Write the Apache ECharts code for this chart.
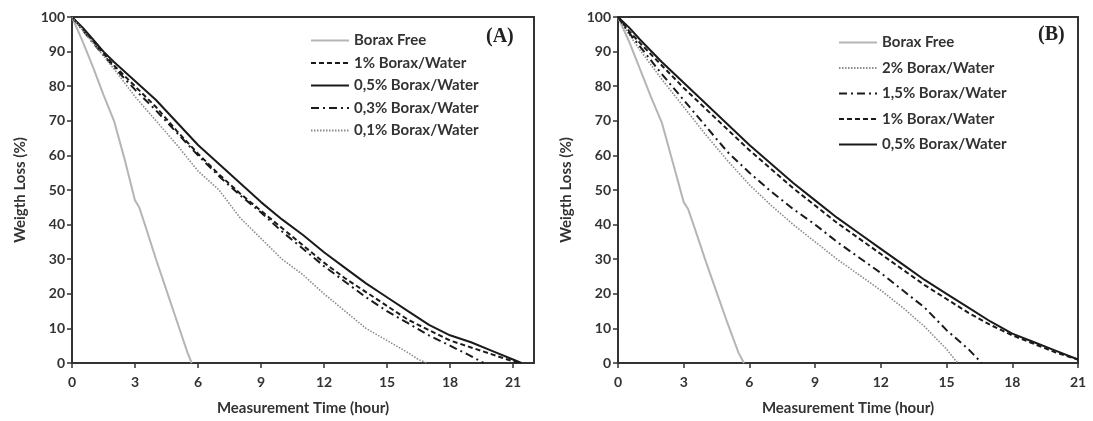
<!DOCTYPE html>
<html>
<head>
<meta charset="utf-8">
<script src="https://cdn.jsdelivr.net/npm/echarts@6/dist/echarts.min.js"></script>
<style>
html,body{margin:0;padding:0;background:#fff;}
#c{width:1093px;height:421px;}
</style>
</head>
<body>
<div id="c"></div>
<script>
// ---- Data (time in hours, weight loss in %) ----
// Panel A
const freeA = [[0,100],[0.5,93],[1,85.5],[1.5,77.5],[2,70],[2.5,59],[3,47],[3.2,45],[3.5,39.5],[4,30],[4.5,21],[5,12],[5.5,3],[5.7,0]];
const b1A = [[0,100],[0.5,96.5],[1,93],[2,86],[3,80],[4,74],[5,67],[6,60.5],[7,54.5],[8,49],[9,44],[10,39],[11,34],[12,29],[13,24.5],[14,20.5],[15,16.5],[16,12.5],[17,9.5],[18,6.5],[19,4.5],[20,2.5],[21,0.5],[21.2,0]];
const b05A = [[0,100],[0.5,97],[1,93.5],[1.5,90],[2,87],[3,81.5],[4,76],[5,69.5],[6,63],[7,57.5],[8,52],[9,46.5],[10,41.5],[11,37],[12,32],[13,27.5],[14,23],[15,19],[16,15],[17,11],[18,8],[19,6],[20,3.5],[21,1],[21.4,0]];
const b03A = [[0,100],[1,92.5],[2,85.5],[3,79],[4,73],[5,66.5],[6,60],[7,54],[8,48.5],[9,43.5],[10,38],[11,33],[12,28],[13,23.5],[14,19],[15,15],[16,11.5],[17,8],[18,5],[19,2],[19.6,0]];
const b01A = [[0,100],[1,92.5],[2,85],[3,77],[4,70],[5,63],[6,55.5],[7,50],[8,42],[9,36],[10,30],[11,25.5],[12,20],[13,15],[14,10],[15,6.5],[16,3],[16.5,1],[16.9,0]];

// Panel B
const freeB = [[0,100],[0.5,93],[1,85],[1.5,77],[2,69.5],[2.5,58],[3,46.5],[3.2,44.5],[3.5,39],[4,29.5],[4.5,20.5],[5,11.5],[5.5,3],[5.75,0]];
const b2B = [[0,100],[0.5,95],[1,90.5],[2,82],[3,74],[4,66],[5,58.5],[6,51.5],[7,45.5],[8,40],[9,35],[10,30],[11,25.5],[12,21],[13,16],[14,10.5],[15,4],[15.5,0]];
const b15B = [[0,100],[0.5,95.5],[1,91.5],[2,83.5],[3,76],[4,68.5],[5,61],[6,55],[7,49.5],[8,44.5],[9,40],[10,35],[11,30.5],[12,26],[13,21],[14,16],[15,9.5],[16,4],[16.6,0]];
const b1B = [[0,100],[0.5,96],[1,92.5],[2,86],[3,79.5],[4,73.5],[5,67.5],[6,61.5],[7,56],[8,50.5],[9,45.5],[10,40.5],[11,36],[12,31.5],[13,27],[14,22.5],[15,18.5],[16,14.5],[17,11],[18,8],[19,5.5],[20,3],[21,1]];
const b05B = [[0,100],[0.5,97],[1,93.5],[2,87],[3,81],[4,75],[5,69],[6,63],[7,57.5],[8,52],[9,47],[10,42],[11,37.5],[12,33],[13,28.5],[14,24],[15,20],[16,16],[17,12],[18,8.5],[19,6],[20,3.5],[21,1]];

const legendA = ['Borax Free', '1% Borax/Water', '0,5% Borax/Water', '0,3% Borax/Water', '0,1% Borax/Water'];
const legendB = ['Borax Free', '2% Borax/Water', '1,5% Borax/Water', '1% Borax/Water', '0,5% Borax/Water'];
const panelLabels = ['(A)', '(B)'];
const xTitle = 'Measurement Time (hour)';
const yTitle = 'Weigth Loss (%)';

// ---- Styles ----
const FONT = 'Lato, "Open Sans", sans-serif';
const styles = {
  free:  {color:'#b5b5b5', width:2, type:'solid'},
  solid: {color:'#1a1a1a', width:2, type:'solid'},
  dash:  {color:'#1a1a1a', width:2, type:[5,3]},
  dashdot: {color:'#1a1a1a', width:2, type:[8,4,2,4]},
  dot:   {color:'#8a8a8a', width:1.6, type:[1.5,1.5]}
};
function mk(name, data, st, idx){
  return {
    name: name, type:'line', data: data, xAxisIndex: idx, yAxisIndex: idx,
    symbol:'none', showSymbol:false, smooth:false, animation:false,
    lineStyle: {color: st.color, width: st.width, type: st.type},
    itemStyle: {color: st.color},
    emphasis: {disabled:true}
  };
}
function xAxis(idx, max){
  return {
    gridIndex: idx, type:'value', min:0, max:max, interval:3,
    name:xTitle, nameLocation:'middle', nameGap:38,
    nameTextStyle:{fontFamily:FONT, fontWeight:'bold', fontSize:15, color:'#333'},
    axisLine:{show:true, lineStyle:{color:'#333', width:2}},
    axisTick:{show:true, length:5, inside:false, lineStyle:{color:'#333', width:1.5}},
    axisLabel:{fontFamily:FONT, fontWeight:'bold', fontSize:14, color:'#333', margin:12, showMaxLabel: max === 21},
    splitLine:{show:false}
  };
}
function yAxis(idx){
  return {
    gridIndex: idx, type:'value', min:0, max:100, interval:10,
    name:yTitle, nameLocation:'middle', nameGap:44, nameRotate:90,
    nameTextStyle:{fontFamily:FONT, fontWeight:'bold', fontSize:15, color:'#333'},
    axisLine:{show:true, lineStyle:{color:'#333', width:2}},
    axisTick:{show:true, length:5, inside:false, lineStyle:{color:'#333', width:1.5}},
    axisLabel:{fontFamily:FONT, fontWeight:'bold', fontSize:14, color:'#333', margin:7},
    splitLine:{show:false}
  };
}
function legend(names, left, top, gap){
  return {
    data: names, orient:'vertical', left:left, top:top, itemWidth:38, itemHeight:14, itemGap:gap,
    selectedMode:false,
    itemStyle:{opacity:0, borderWidth:0},
    textStyle:{fontFamily:FONT, fontWeight:'bold', fontSize:15, color:'#333'}
  };
}

const chart = echarts.init(document.getElementById('c'), null, {renderer:'canvas'});
chart.setOption({
  animation:false,
  backgroundColor:'#fff',
  grid:[
    {left:72, top:17, width:462, height:347, show:true, borderColor:'#333', borderWidth:2, backgroundColor:'transparent'},
    {left:618, top:17, width:460, height:347, show:true, borderColor:'#333', borderWidth:2, backgroundColor:'transparent'}
  ],
  xAxis:[xAxis(0, 22), xAxis(1, 21)],
  yAxis:[yAxis(0), yAxis(1)],
  legend:[legend(legendA, 305, 28, 7.5), legend(legendB, 833, 30, 10.5)],
  graphic:[
    {type:'text', left:486, top:27, style:{text:panelLabels[0], font:'bold 20px "Liberation Serif", "DejaVu Serif", serif', fill:'#222'}},
    {type:'text', left:1038, top:25, style:{text:panelLabels[1], font:'bold 20px "Liberation Serif", "DejaVu Serif", serif', fill:'#222'}}
  ],
  series:[
    mk('Borax Free', freeA, styles.free, 0),
    mk('1% Borax/Water', b1A, styles.dash, 0),
    mk('0,5% Borax/Water', b05A, styles.solid, 0),
    mk('0,3% Borax/Water', b03A, styles.dashdot, 0),
    mk('0,1% Borax/Water', b01A, styles.dot, 0),
    mk('Borax Free', freeB, styles.free, 1),
    mk('2% Borax/Water', b2B, styles.dot, 1),
    mk('1,5% Borax/Water', b15B, styles.dashdot, 1),
    mk('1% Borax/Water', b1B, styles.dash, 1),
    mk('0,5% Borax/Water', b05B, styles.solid, 1)
  ]
});
</script>
</body>
</html>
